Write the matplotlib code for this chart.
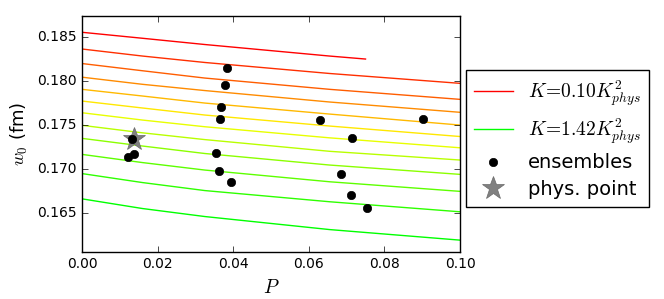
import matplotlib
matplotlib.use('Agg')
import matplotlib.pyplot as plt

plt.style.use('classic')
plt.rcParams['mathtext.fontset'] = 'cm'

# K / K_phys^2 values of the curves
k_values = [0.10, 0.22, 0.34, 0.46, 0.58, 0.70, 0.82, 0.94, 1.06, 1.18, 1.30, 1.42]

# P grid where the curves were read
p_grid = [0.0, 0.016, 0.0325, 0.0655, 0.1]
p_first = [0.0, 0.016, 0.0325, 0.0655, 0.075]  # first curve stops early

w0_curves = [
    [0.18557, 0.18489, 0.18418, 0.18287, 0.18253],
    [0.18367, 0.18287, 0.18214, 0.18089, 0.17977],
    [0.18202, 0.18120, 0.18037, 0.17909, 0.17795],
    [0.18047, 0.17966, 0.17895, 0.17765, 0.17648],
    [0.17909, 0.17833, 0.17753, 0.17628, 0.17503],
    [0.17776, 0.17697, 0.17617, 0.17492, 0.17373],
    [0.17643, 0.17560, 0.17484, 0.17358, 0.17245],
    [0.17500, 0.17415, 0.17338, 0.17205, 0.17106],
    [0.17352, 0.17265, 0.17180, 0.17049, 0.16943],
    [0.17170, 0.17077, 0.16992, 0.16859, 0.16750],
    [0.16952, 0.16850, 0.16759, 0.16632, 0.16518],
    [0.16665, 0.16555, 0.16464, 0.16316, 0.16196],
]

# ensembles
ens_p = [0.0383, 0.0378, 0.0368, 0.0365, 0.0630, 0.0901, 0.0714, 0.0133,
         0.0123, 0.0137, 0.0355, 0.0362, 0.0393, 0.0686, 0.0712, 0.0753]
ens_w0 = [0.18148, 0.17958, 0.17708, 0.17568, 0.17560, 0.17568, 0.17361, 0.17341,
          0.17136, 0.17170, 0.17189, 0.16977, 0.16859, 0.16950, 0.16708, 0.16564]

# physical point
phys_p = 0.0137
phys_w0 = 0.1735

fig = plt.figure(figsize=(6.64, 2.99), dpi=100, facecolor='white')
ax = fig.add_axes([0.1235, 0.158, 0.5693, 0.7885])

n = len(k_values)
for i, (k, w) in enumerate(zip(k_values, w0_curves)):
    t = i / (n - 1)
    col = (min(1.0, 2 * (1 - t)), min(1.0, 2 * t), 0.0)
    p = p_first if i == 0 else p_grid
    lab = None
    if i == 0 or i == n - 1:
        lab = r'$K\!=\!%.2fK^2_{phys}$' % k
    ax.plot(p, w, '-', color=col, lw=1.0, label=lab)

ax.plot([phys_p], [phys_w0], '*', color='gray', mec='dimgray', ms=17,
        label='phys. point', zorder=3)
ax.plot(ens_p, ens_w0, 'o', color='black', ms=6, label='ensembles', zorder=4)

ax.set_xlim(0.0, 0.1)
ax.set_ylim(0.16064, 0.18742)
ax.set_yticks([0.165, 0.170, 0.175, 0.180, 0.185])
ax.set_xticks([0.0, 0.02, 0.04, 0.06, 0.08, 0.10])
ax.tick_params(labelsize=10)
ax.set_xlabel(r'$P$', fontsize=14)
ax.set_ylabel(r'$w_0$ (fm)', fontsize=13)

h, l = ax.get_legend_handles_labels()
order = [0, 1, 3, 2]
ax.legend([h[j] for j in order], [l[j] for j in order], loc='center left',
          bbox_to_anchor=(1.016, 0.48), borderaxespad=0, numpoints=1,
          fontsize=14, handlelength=2.0, labelspacing=0.4)

fig.savefig('out.png', dpi=100, facecolor='white')
